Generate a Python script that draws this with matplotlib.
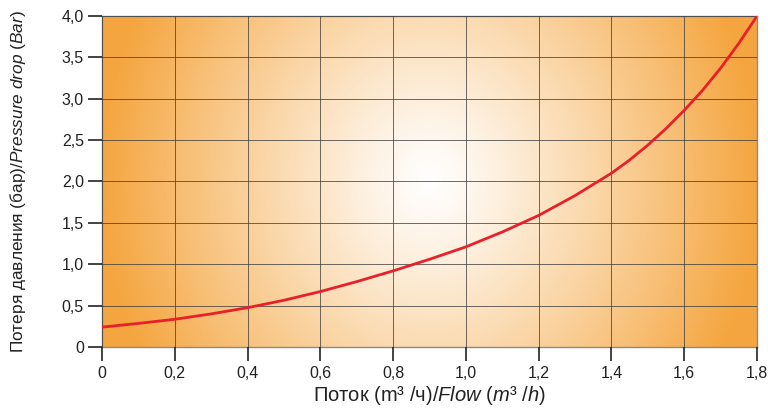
import numpy as np
import matplotlib.pyplot as plt
from matplotlib.ticker import FuncFormatter

plt.rcParams['font.family'] = ['Liberation Sans', 'DejaVu Sans']
plt.rcParams['mathtext.fontset'] = 'custom'
plt.rcParams['mathtext.it'] = 'Liberation Sans:italic'
plt.rcParams['mathtext.rm'] = 'Liberation Sans'

# flow (m3/h) vs pressure drop (bar)
flow = [0.0, 0.1, 0.2, 0.3, 0.4, 0.5, 0.6, 0.7, 0.8, 0.9, 1.0,
        1.1, 1.2, 1.3, 1.4, 1.45, 1.5, 1.55, 1.6, 1.65, 1.7, 1.75, 1.8]
pressure = [0.24, 0.285, 0.335, 0.40, 0.475, 0.565, 0.67, 0.79, 0.92, 1.06, 1.21,
            1.39, 1.59, 1.83, 2.10, 2.26, 2.44, 2.64, 2.86, 3.10, 3.37, 3.67, 4.0]

xticks = [0, 0.2, 0.4, 0.6, 0.8, 1.0, 1.2, 1.4, 1.6, 1.8]
yticks = [0, 0.5, 1.0, 1.5, 2.0, 2.5, 3.0, 3.5, 4.0]


def comma(v, pos):
    if v == 0:
        return '0'
    return ('%.1f' % v).replace('.', ',')


fig = plt.figure(figsize=(7.68, 4.08), dpi=100)
ax = fig.add_axes([0.1328, 0.1495, 0.8529, 0.8113])

# radial orange background
gx, gy = np.meshgrid(np.linspace(0, 1.8, 400), np.linspace(0, 4.0, 200))
dx = (gx - 0.9) / 0.9
dy = (gy - 2.0) / 2.0
r = np.clip(np.sqrt(dx ** 2 + (0.45 * dy) ** 2), 0, 1) ** 1.15
orange = np.array([0.96, 0.65, 0.25])
img = (1 - r[..., None]) * np.array([1.0, 1.0, 1.0]) + r[..., None] * orange
ax.imshow(img, extent=[0, 1.8, 0, 4.0], origin='lower', aspect='auto', zorder=0)

ax.plot(flow, pressure, color='#e8202a', linewidth=2.0, zorder=3,
        solid_joinstyle='round')

ax.set_xlim(0, 1.8)
ax.set_ylim(0, 4.0)
ax.set_xticks(xticks)
ax.set_yticks(yticks)
ax.xaxis.set_major_formatter(FuncFormatter(comma))
ax.yaxis.set_major_formatter(FuncFormatter(comma))
ax.grid(True, color='#3a3a3a', linewidth=0.7, alpha=0.75, zorder=1)
ax.set_axisbelow(False)
ax.tick_params(axis='both', labelsize=11.5, colors='#222222', length=10, width=1.2, pad=3)
ax.tick_params(axis='x', pad=4)
for s in ax.spines.values():
    s.set_color('#8a8a8a')
    s.set_linewidth(1.0)

ax.set_xlabel('Поток (m³ /ч)/$\\mathit{Flow\\ (m³\\ /h)}$', fontsize=14.5, color='#222222', labelpad=2)
ax.set_ylabel('Потеря давления (бар)/$\\mathit{Pressure\\ drop\\ (Bar)}$', fontsize=12.4, color='#222222', labelpad=24)

fig.savefig('out.png', dpi=100)
